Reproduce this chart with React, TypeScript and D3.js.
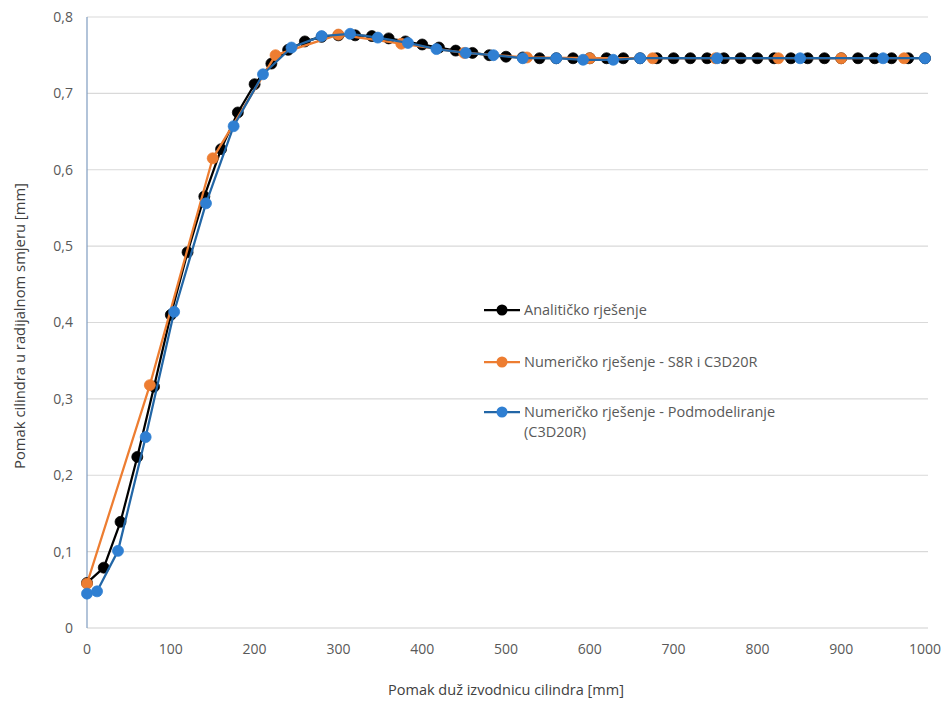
import React from "react";
import * as d3 from "d3";

const analyticX = d3.range(0, 1001, 20);
const analyticY = [
  0.059, 0.079, 0.139, 0.224, 0.316, 0.41, 0.492, 0.565, 0.627, 0.675,
  0.712, 0.739, 0.757, 0.768, 0.774, 0.776, 0.776, 0.775, 0.772, 0.768,
  0.764, 0.76, 0.756, 0.753, 0.75, 0.748, 0.747, 0.746, 0.746, 0.746,
  0.746, 0.746, 0.746, 0.746, 0.746, 0.746, 0.746, 0.746, 0.746, 0.746,
  0.746, 0.746, 0.746, 0.746, 0.746, 0.746, 0.746, 0.746, 0.746, 0.746,
  0.746,
];

const s8rX = [0, 75, 150, 225, 300, 375, 450, 525, 600, 675, 750, 825, 900, 975];
const s8rY = [0.058, 0.318, 0.615, 0.75, 0.777, 0.765, 0.753, 0.747, 0.746, 0.746, 0.746, 0.746, 0.746, 0.746];

const subX = [0, 12, 37, 70, 104, 142, 175, 210, 244, 280, 314, 347, 383, 417, 452, 485, 520, 560, 592, 628, 660, 752, 851, 950, 1000];
const subY = [0.045, 0.048, 0.101, 0.25, 0.414, 0.556, 0.657, 0.725, 0.76, 0.775, 0.778, 0.773, 0.766, 0.758, 0.753, 0.75, 0.746, 0.746, 0.744, 0.744, 0.746, 0.746, 0.746, 0.746, 0.746];

const xTicks = [0, 100, 200, 300, 400, 500, 600, 700, 800, 900, 1000];
const yTicks = [0, 0.1, 0.2, 0.3, 0.4, 0.5, 0.6, 0.7, 0.8];

const seriesNames = [
  ["Analitičko rješenje"],
  ["Numeričko rješenje - S8R i C3D20R"],
  ["Numeričko rješenje - Podmodeliranje", "(C3D20R)"],
];

const xTitle = "Pomak duž izvodnicu cilindra [mm]";
const yTitle = "Pomak cilindra u radijalnom smjeru [mm]";

export default function App() {
  const W = 946;
  const H = 702;
  const x = d3.scaleLinear().domain([0, 1000]).range([87, 925]);
  const y = d3.scaleLinear().domain([0, 0.8]).range([628, 17]);
  const line = d3
    .line<[number, number]>()
    .x((d) => x(d[0]))
    .y((d) => y(d[1]));

  const series = [
    { xs: analyticX, ys: analyticY, line: "#000000", fill: "#000000" },
    { xs: s8rX, ys: s8rY, line: "#ed7d31", fill: "#ed7d31" },
    { xs: subX, ys: subY, line: "#2266a6", fill: "#2f7fd2" },
  ];

  const fmt = (v: number) => (v === 0 ? "0" : v.toFixed(1).replace(".", ","));
  const font = "'Open Sans', 'Noto Sans', sans-serif";
  const legendY = [310, 362, 412];

  return (
    <svg
      width={W}
      height={H}
      style={{ position: "absolute", left: 0, top: 0, background: "#fff" }}
      fontFamily={font}
    >
      <rect width={W} height={H} fill="#fff" />
      {yTicks.map((t) =>
        t > 0 ? (
          <line key={"g" + t} x1={87} x2={928} y1={y(t)} y2={y(t)} stroke="#d9d9d9" strokeWidth={1.2} />
        ) : null
      )}
      <line x1={87} x2={928} y1={y(0)} y2={y(0)} stroke="#d0d0d0" strokeWidth={1.2} />
      <line x1={87} x2={87} y1={y(0.8)} y2={y(0)} stroke="#7f9cc0" strokeWidth={1.2} />

      {yTicks.map((t) => (
        <text key={"yt" + t} x={73} y={y(t)} dy="0.35em" textAnchor="end" fontSize={14} fill="#595959">
          {fmt(t)}
        </text>
      ))}
      {xTicks.map((t) => (
        <text key={"xt" + t} x={x(t)} y={654} textAnchor="middle" fontSize={14} fill="#595959">
          {t}
        </text>
      ))}
      <text x={506} y={695} textAnchor="middle" fontSize={14.5} fill="#404040">
        {xTitle}
      </text>
      <text
        transform={`translate(25,${326}) rotate(-90)`}
        textAnchor="middle"
        fontSize={14.8}
        fill="#404040"
      >
        {yTitle}
      </text>

      {series.map((s, i) => {
        const pts: [number, number][] = s.xs.map((v, j) => [v, s.ys[j]]);
        return (
          <g key={"s" + i}>
            <path d={line(pts) || ""} fill="none" stroke={s.line} strokeWidth={2.25} strokeLinejoin="round" />
            {pts.map((p, j) => (
              <circle key={j} cx={x(p[0])} cy={y(p[1])} r={5.5} fill={s.fill} stroke={s.fill} strokeWidth={0.75} />
            ))}
          </g>
        );
      })}

      {seriesNames.map((names, i) => (
        <g key={"l" + i}>
          <line x1={484} x2={520} y1={legendY[i]} y2={legendY[i]} stroke={series[i].line} strokeWidth={2.25} />
          <circle cx={502} cy={legendY[i]} r={5.5} fill={series[i].fill} />
          {names.map((n, k) => (
            <text key={k} x={524} y={legendY[i] + k * 20} dy="0.35em" fontSize={14.5} fill="#595959">
              {n}
            </text>
          ))}
        </g>
      ))}
    </svg>
  );
}
